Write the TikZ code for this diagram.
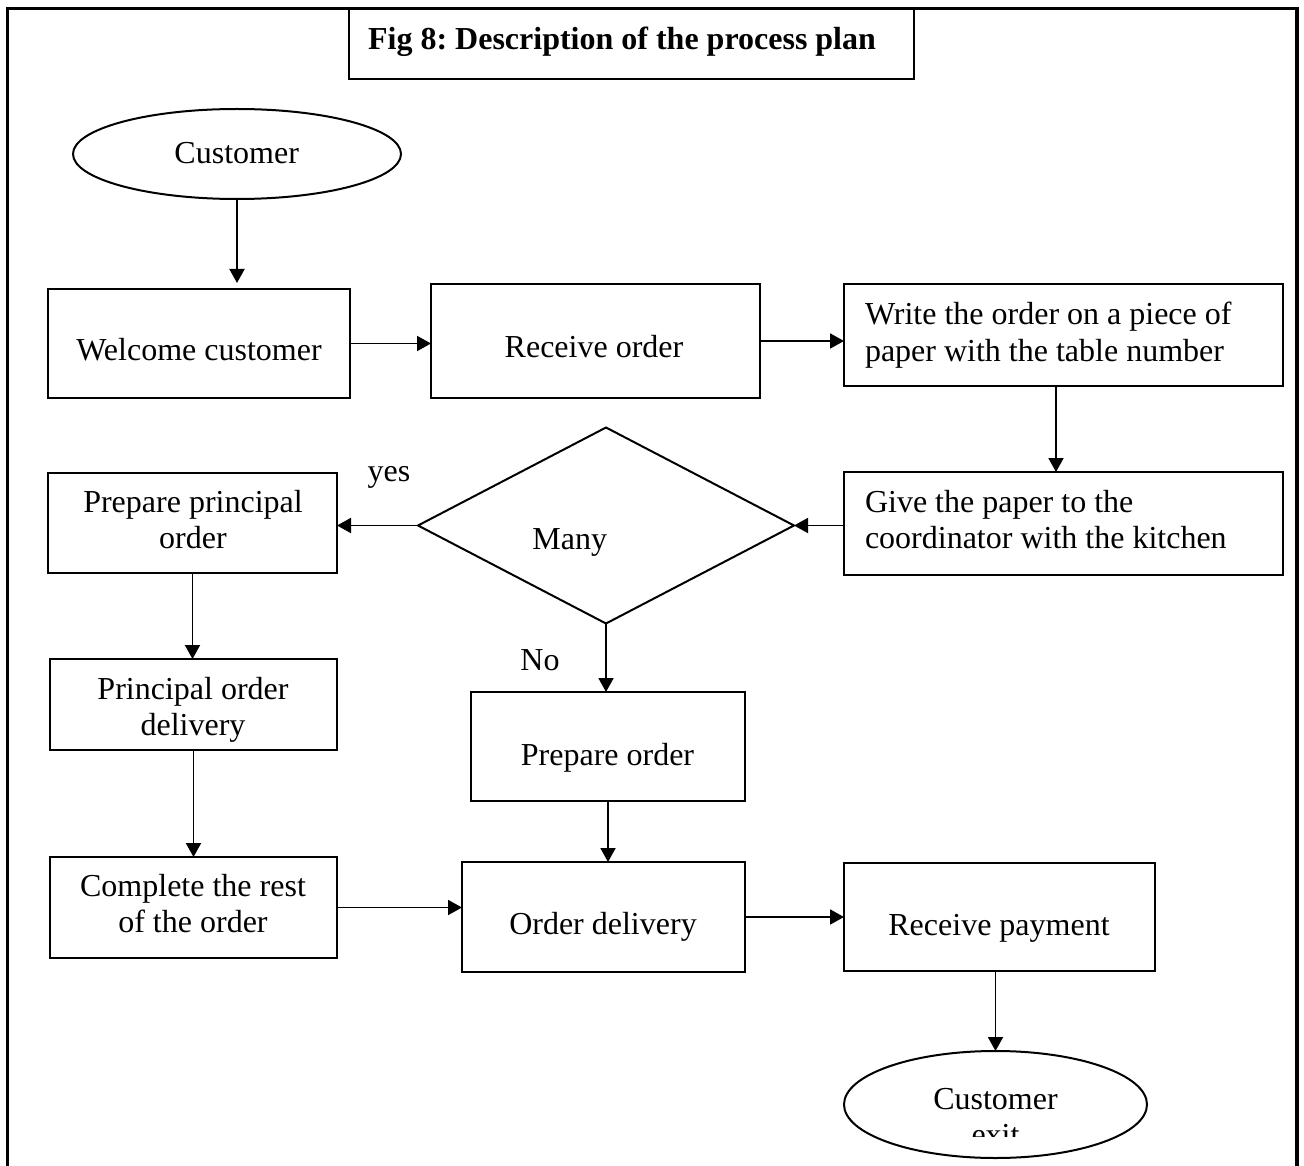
\documentclass[tikz,border=0pt]{standalone}
\usepackage{fontspec}
\setmainfont{Liberation Serif}
\usetikzlibrary{shapes.geometric,arrows.meta}
\frenchspacing
\begin{document}
\begin{tikzpicture}[x=1pt,y=-1pt,
  font=\fontsize{32}{36}\selectfont,
  box/.style={draw,line width=2pt,rectangle,inner sep=0pt,outer sep=0pt},
  oval/.style={draw,line width=2pt,ellipse,inner sep=0pt,outer sep=0pt},
  decision/.style={draw,line width=2pt,diamond,inner sep=0pt,outer sep=0pt},
  txt/.style={inner sep=0pt,outer sep=0pt,anchor=base},
  txtl/.style={inner sep=0pt,outer sep=0pt,anchor=base west},
  arr/.style={line width=1.9pt,-{Triangle[length=14pt,width=15pt]}}
]
\useasboundingbox (0,0) rectangle (1304,1166);

% outer frame, open at the bottom
\draw[line width=3.6pt] (7.5,1166) -- (7.5,8.5) -- (1297,8.5) -- (1297,1166);

% title
\node[box,minimum width=565pt,minimum height=70.5pt] (title) at (631.5,43.75) {};
\node[txt] (titletxt) at (622,50) {\bfseries Fig 8: Description of the process plan};

% shapes
\node[oval,minimum width=328pt,minimum height=90pt] (cust) at (237,154) {};
\node[box,minimum width=301.5pt,minimum height=109pt] (welc) at (198.75,343.5) {};
\node[box,minimum width=328.5pt,minimum height=114pt] (rec) at (595.25,341) {};
\node[box,minimum width=439pt,minimum height=102pt] (write) at (1063.5,335) {};
\node[box,minimum width=439pt,minimum height=103pt] (give) at (1063.5,523.5) {};
\node[decision,minimum width=376pt,minimum height=196pt] (dia) at (606,525.5) {};
\node[box,minimum width=289pt,minimum height=100pt] (pp) at (192.5,523) {};
\node[box,minimum width=287pt,minimum height=91pt] (pod) at (193.5,704.5) {};
\node[box,minimum width=287pt,minimum height=101pt] (comp) at (193.5,907.5) {};
\node[box,minimum width=274pt,minimum height=109pt] (prep) at (608,746.5) {};
\node[box,minimum width=283pt,minimum height=110pt] (deliv) at (603.5,917) {};
\node[box,minimum width=311pt,minimum height=108pt] (pay) at (999.5,916.5) {};
\node[oval,minimum width=303pt,minimum height=107pt] (exit) at (995.5,1104.5) {};

% texts
\node[txt] (custtxt) at (236.7,164) {Customer};
\node[txt] (welctxt) at (199,360.7) {Welcome customer};
\node[txt] (rectxt) at (594,357.3) {Receive order};
\node[txtl] (writetxt) at (865,325) {\begin{tabular}[t]{@{}l@{}}Write the order on a piece of\\paper with the table number\end{tabular}};
\node[txtl] (givetxt) at (865,512.7) {\begin{tabular}[t]{@{}l@{}}Give the paper to the\\coordinator with the kitchen\end{tabular}};
\node[txt] (diatxt) at (569.7,549) {Many};
\node[txt] (yestxt) at (389,481.7) {yes};
\node[txt] (notxt) at (540,670.7) {No};
\node[txt] (pptxt) at (193,512) {\begin{tabular}[t]{@{}c@{}}Prepare principal\\order\end{tabular}};
\node[txt] (podtxt) at (193,699) {\begin{tabular}[t]{@{}c@{}}Principal order\\delivery\end{tabular}};
\node[txt] (comptxt) at (193,896.7) {\begin{tabular}[t]{@{}c@{}}Complete the rest\\of the order\end{tabular}};
\node[txt] (preptxt) at (607.5,765) {Prepare order};
\node[txt] (delivtxt) at (603,934) {Order delivery};
\node[txt] (paytxt) at (999,935) {Receive payment};
\node[txt] (exittxt) at (995.5,1109) {Customer};
\begin{scope}
  \clip (840,1110) rectangle (1150,1136.8);
  \node[txt] (exittxtb) at (995.5,1145) {exit};
\end{scope}

% connectors
\draw[arr,shorten >=6pt] (cust.south) -- (cust.south |- welc.north);
\draw[arr] (welc.east) -- (welc.east -| rec.west);
\draw[arr] (rec.east) -- (rec.east -| write.west);
\draw[arr] ([xshift=-7.5pt]write.south) -- ([xshift=-7.5pt]give.north);
\draw[arr] (dia.east -| give.west) -- (dia.east);
\draw[arr] (dia.west) -- (dia.west -| pp.east);
\draw[arr] (pp.south) -- (pp.south |- pod.north);
\draw[arr] (pod.south) -- (pod.south |- comp.north);
\draw[arr] (dia.south) -- (dia.south |- prep.north);
\draw[arr] (prep.south) -- (prep.south |- deliv.north);
\draw[arr] (comp.east) -- (comp.east -| deliv.west);
\draw[arr] (deliv.east) -- (deliv.east -| pay.west);
\draw[arr] (exit.north |- pay.south) -- (exit.north);
\end{tikzpicture}
\end{document}
